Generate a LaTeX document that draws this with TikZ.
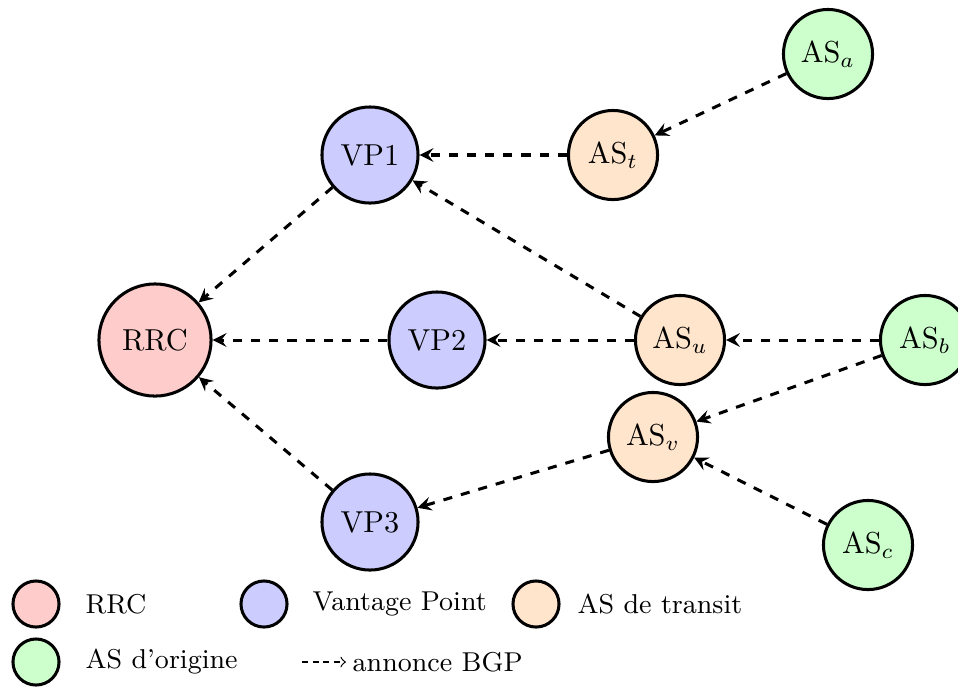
\documentclass[tikz,border=0pt]{standalone}
\usetikzlibrary{positioning}

\begin{document}
\begin{tikzpicture}[
  x=0.33pt, y=-0.33pt,
  every node/.style={inner sep=2pt},
  peer/.style={circle, draw, line width=1pt, fill=#1},
  rrcnode/.style={peer=red!20, minimum size=37pt},
  vpnode/.style={peer=blue!20, minimum size=31.7pt},
  transit/.style={peer=orange!20, minimum size=29.4pt},
  origin/.style={peer=green!20, minimum size=29.4pt},
  keydot/.style={peer=#1, minimum size=15.2pt},
  keytext/.style={anchor=west, font=\small},
  annonce/.style={-stealth, dashed, line width=1pt},
]
  \useasboundingbox (0,0) rectangle (958,686);

  \node[rrcnode] (rrc) at (155,340) {RRC};
  \node[vpnode] (vp1) at (370,155) {VP1};
  \node[vpnode] (vp2) at (437,340) {VP2};
  \node[vpnode] (vp3) at (370,522) {VP3};
  \node[transit] (ast) at (613,155) {AS$_t$};
  \node[transit] (asu) at (680,340) {AS$_u$};
  \node[transit] (asv) at (653,437) {AS$_v$};
  \node[origin] (asa) at (828,54) {AS$_a$};
  \node[origin] (asb) at (925,340) {AS$_b$};
  \node[origin] (asc) at (868,545) {AS$_c$};

  \draw[annonce] (asa) -- (ast);
  \draw[annonce] (ast) -- (vp1);
  \draw[annonce] (asu) -- (vp1);
  \draw[annonce] (asu) -- (vp2);
  \draw[annonce] (asb) -- (asu);
  \draw[annonce] (asb) -- (asv);
  \draw[annonce] (asc) -- (asv);
  \draw[annonce] (asv) -- (vp3);
  \draw[annonce] (vp1) -- (rrc);
  \draw[annonce] (vp2) -- (rrc);
  \draw[annonce] (vp3) -- (rrc);

  % legende
  \node[keydot=red!20] (krrc) at (36,604) {};
  \node[keytext] (trrc) at (79,604) {RRC};
  \node[keydot=blue!20] (kvp) at (264,604) {};
  \node[keytext] (tvp) at (306,604) {Vantage Point};
  \node[keydot=orange!20] (ktr) at (536,604) {};
  \node[keytext] (ttr) at (571,604) {AS de transit};
  \node[keydot=green!20] (korig) at (36,662) {};
  \node[keytext] (torig) at (79,662) {AS d'origine};
  \node[keytext] (tbgp) at (346,662) {annonce BGP};
  \coordinate (kbgp) at (302,662);
  \draw[->, dash pattern=on 2pt off 1.5pt, line width=0.4pt] (kbgp) -- (tbgp.west);
\end{tikzpicture}
\end{document}
